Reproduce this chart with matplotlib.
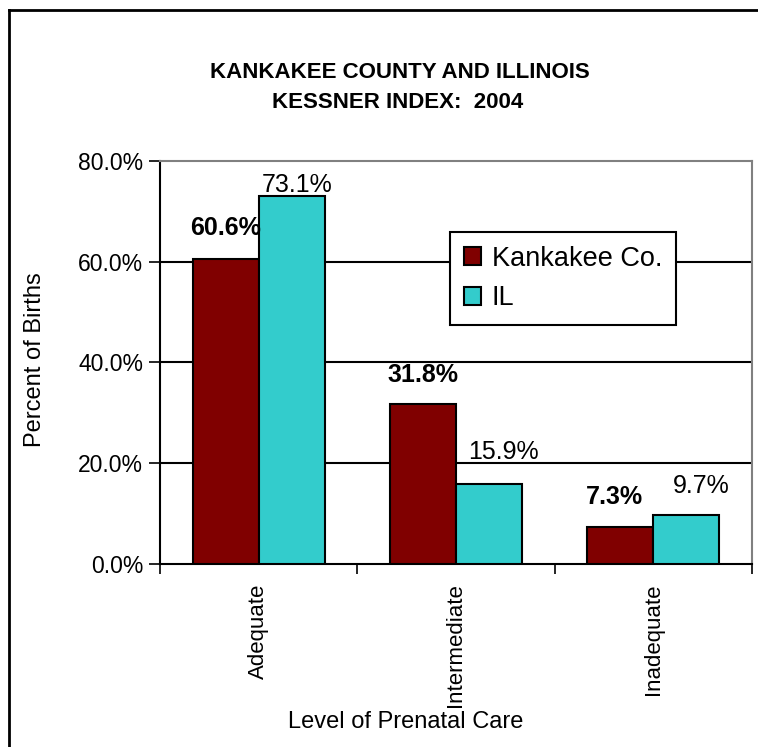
import matplotlib
matplotlib.use("Agg")
import matplotlib.pyplot as plt
from matplotlib.lines import Line2D
import numpy as np

plt.rcParams['font.family'] = ['Liberation Sans', 'DejaVu Sans']

categories = ["Adequate", "Intermediate", "Inadequate"]
series_names = ["Kankakee Co.", "IL"]
kankakee = [60.6, 31.8, 7.3]
illinois = [73.1, 15.9, 9.7]
yticks = [0, 20, 40, 60, 80]

W, H = 758, 747
fig = plt.figure(figsize=(W / 100, H / 100), dpi=100)
ax = fig.add_axes([160 / W, 1 - 564 / H, (752 - 160) / W, (564 - 161) / H])

x = np.arange(len(categories))
bw = 0.335
maroon = "#800000"
cyan = "#33CCCC"
b1 = ax.bar(x - bw / 2, kankakee, bw, color=maroon, edgecolor="black", linewidth=1.5, zorder=3)
b2 = ax.bar(x + bw / 2, illinois, bw, color=cyan, edgecolor="black", linewidth=1.5, zorder=3)

ax.set_xlim(-0.5, 2.5)
ax.set_ylim(0, 80)
ax.set_yticks(yticks)
ax.set_yticklabels([f"{v:.1f}%" for v in yticks], fontsize=16.5)
ax.tick_params(axis='y', direction='out', length=8, width=1.2, pad=4)
for v in yticks[1:-1]:
    ax.axhline(v, color="black", linewidth=1.5, zorder=1)

ax.set_xticks(x)
ax.set_xticklabels(categories, rotation=90, fontsize=16, va='top')
ax.tick_params(axis='x', length=0, pad=14)
ax.set_xticks([-0.5, 0.5, 1.5, 2.5], minor=True)
ax.tick_params(axis='x', which='minor', direction='out', length=7, width=1.2)

for s in ['left', 'bottom']:
    ax.spines[s].set_color("black")
    ax.spines[s].set_linewidth(1.5)
for s in ['top', 'right']:
    ax.spines[s].set_color("#808080")
    ax.spines[s].set_linewidth(1.5)

# data labels
k_off = [(0, 31), (0, 29), (-6, 30)]
i_off = [(5, 11), (14, 32), (15, 29)]
for xi, v, off in zip(x, kankakee, k_off):
    ax.annotate(f"{v:.1f}%", (xi - bw / 2, v), xytext=off, textcoords='offset pixels',
                ha='center', va='center', fontsize=18, fontweight='bold', zorder=5)
for xi, v, off in zip(x, illinois, i_off):
    ax.annotate(f"{v:.1f}%", (xi + bw / 2, v), xytext=off, textcoords='offset pixels',
                ha='center', va='center', fontsize=18, zorder=5)

leg = ax.legend([b1, b2], series_names, loc='upper left',
                bbox_to_anchor=(450 / W, 1 - 232 / H), bbox_transform=fig.transFigure,
                fontsize=19.5, frameon=True, fancybox=False, shadow=False,
                handlelength=0.65, handleheight=0.65, handletextpad=0.4,
                borderpad=0.5, labelspacing=0.5, borderaxespad=0)
leg.get_frame().set_edgecolor("black")
leg.get_frame().set_linewidth(1.5)
leg.get_frame().set_facecolor("white")
leg.get_frame().set_alpha(1)
leg.set_zorder(10)

fig.text(400 / W, 1 - 72 / H, "KANKAKEE COUNTY AND ILLINOIS", ha='center', va='center',
         fontsize=16, fontweight='bold')
fig.text(398 / W, 1 - 103 / H, "KESSNER INDEX:  2004", ha='center', va='center',
         fontsize=16, fontweight='bold')
fig.text(35 / W, 1 - 360 / H, "Percent of Births", rotation=90, ha='center', va='center',
         fontsize=17)
fig.text(406 / W, 1 - 722 / H, "Level of Prenatal Care", ha='center', va='center',
         fontsize=17)

# outer chart border (left and top visible)
fig.add_artist(Line2D([9 / W, 9 / W], [0, 1 - 10 / H], transform=fig.transFigure,
                      color='black', linewidth=2))
fig.add_artist(Line2D([9 / W, 1], [1 - 10 / H, 1 - 10 / H], transform=fig.transFigure,
                      color='black', linewidth=2))

fig.savefig("out.png", dpi=100)
